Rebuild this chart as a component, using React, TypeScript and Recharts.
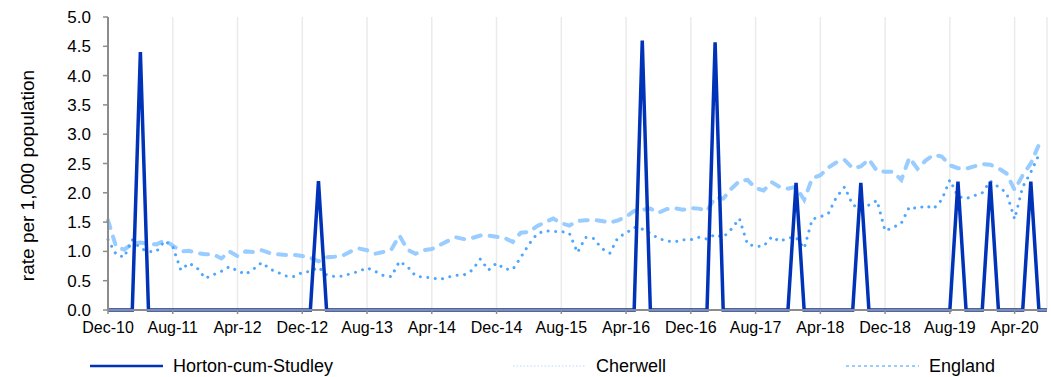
import { LineChart, Line, XAxis, YAxis, CartesianGrid, Legend } from "recharts"

// monthly categories, Dec-10 .. Aug-20
const months = [
  "Dec-10",
  "Jan-11", "Feb-11", "Mar-11", "Apr-11", "May-11", "Jun-11", "Jul-11", "Aug-11", "Sep-11", "Oct-11", "Nov-11", "Dec-11",
  "Jan-12", "Feb-12", "Mar-12", "Apr-12", "May-12", "Jun-12", "Jul-12", "Aug-12", "Sep-12", "Oct-12", "Nov-12", "Dec-12",
  "Jan-13", "Feb-13", "Mar-13", "Apr-13", "May-13", "Jun-13", "Jul-13", "Aug-13", "Sep-13", "Oct-13", "Nov-13", "Dec-13",
  "Jan-14", "Feb-14", "Mar-14", "Apr-14", "May-14", "Jun-14", "Jul-14", "Aug-14", "Sep-14", "Oct-14", "Nov-14", "Dec-14",
  "Jan-15", "Feb-15", "Mar-15", "Apr-15", "May-15", "Jun-15", "Jul-15", "Aug-15", "Sep-15", "Oct-15", "Nov-15", "Dec-15",
  "Jan-16", "Feb-16", "Mar-16", "Apr-16", "May-16", "Jun-16", "Jul-16", "Aug-16", "Sep-16", "Oct-16", "Nov-16", "Dec-16",
  "Jan-17", "Feb-17", "Mar-17", "Apr-17", "May-17", "Jun-17", "Jul-17", "Aug-17", "Sep-17", "Oct-17", "Nov-17", "Dec-17",
  "Jan-18", "Feb-18", "Mar-18", "Apr-18", "May-18", "Jun-18", "Jul-18", "Aug-18", "Sep-18", "Oct-18", "Nov-18", "Dec-18",
  "Jan-19", "Feb-19", "Mar-19", "Apr-19", "May-19", "Jun-19", "Jul-19", "Aug-19", "Sep-19", "Oct-19", "Nov-19", "Dec-19",
  "Jan-20", "Feb-20", "Mar-20", "Apr-20", "May-20", "Jun-20", "Jul-20", "Aug-20",
]

const hortonCumStudley = [
  0,
  0, 0, 0, 4.4, 0, 0, 0, 0, 0, 0, 0, 0,
  0, 0, 0, 0, 0, 0, 0, 0, 0, 0, 0, 0,
  0, 2.2, 0, 0, 0, 0, 0, 0, 0, 0, 0, 0,
  0, 0, 0, 0, 0, 0, 0, 0, 0, 0, 0, 0,
  0, 0, 0, 0, 0, 0, 0, 0, 0, 0, 0, 0,
  0, 0, 0, 0, 0, 4.6, 0, 0, 0, 0, 0, 0,
  0, 0, 4.57, 0, 0, 0, 0, 0, 0, 0, 0, 0,
  2.17, 0, 0, 0, 0, 0, 0, 0, 2.17, 0, 0, 0,
  0, 0, 0, 0, 0, 0, 0, 0, 2.19, 0, 0, 0,
  2.19, 0, 0, 0, 0, 2.19, 0, 0,
]

const cherwell = [
  1.2,
  0.95, 0.9, 1.2, 1.05, 1.0, 1.0, 1.18, 1.08, 0.68, 0.8, 0.72, 0.54,
  0.6, 0.66, 0.74, 0.67, 0.61, 0.7, 0.81, 0.7, 0.64, 0.58, 0.57, 0.64,
  0.66, 0.73, 0.6, 0.57, 0.58, 0.62, 0.66, 0.72, 0.66, 0.59, 0.57, 0.83,
  0.74, 0.58, 0.56, 0.55, 0.52, 0.56, 0.59, 0.6, 0.68, 0.87, 0.68, 0.8,
  0.7, 0.69, 0.9, 1.12, 1.3, 1.35, 1.34, 1.34, 1.31, 0.98, 1.24, 1.22,
  1.05, 0.97, 1.24, 1.31, 1.41, 1.38, 1.31, 1.22, 1.18, 1.16, 1.2, 1.2,
  1.24, 1.21, 1.29, 1.24, 1.38, 1.56, 1.12, 1.09, 1.09, 1.25, 1.17, 1.23,
  1.24, 1.05, 1.55, 1.59, 1.65, 1.93, 2.1, 1.79, 1.74, 1.79, 1.87, 1.35,
  1.41, 1.48, 1.76, 1.73, 1.78, 1.73, 1.88, 2.22, 1.94, 1.9, 1.95, 2.0,
  2.2, 2.1, 2.0, 1.55, 2.1, 2.35, 2.65, null,
]

const england = [
  1.53,
  1.08, 1.03, 1.13, 1.15, 1.13, 1.12, 1.19, 1.1, 1.0, 1.01, 0.97, 0.95,
  0.95, 0.88, 1.0, 0.92, 1.0, 0.99, 1.02, 0.97, 0.95, 0.94, 0.94, 0.92,
  0.89, 0.83, 0.9, 0.91, 0.93, 1.0, 1.05, 1.02, 0.96, 0.99, 1.03, 1.27,
  1.03, 0.96, 1.02, 1.04, 1.11, 1.18, 1.24, 1.21, 1.23, 1.27, 1.27, 1.25,
  1.23, 1.16, 1.32, 1.33, 1.43, 1.5, 1.56, 1.48, 1.44, 1.52, 1.53, 1.54,
  1.52, 1.49, 1.53, 1.59, 1.69, 1.71, 1.73, 1.66, 1.72, 1.74, 1.71, 1.74,
  1.73, 1.69, 1.92, 1.9, 2.07, 2.2, 2.22, 2.08, 2.04, 2.18, 2.1, 2.07,
  2.1, 1.88, 2.25, 2.3, 2.43, 2.52, 2.56, 2.42, 2.45, 2.57, 2.37, 2.36,
  2.36, 2.22, 2.6, 2.41, 2.55, 2.65, 2.62, 2.47, 2.42, 2.41, 2.45, 2.49,
  2.48, 2.42, 2.33, 2.05, 2.3, 2.5, 2.82, null,
]

const yTicks = [0, 0.5, 1, 1.5, 2, 2.5, 3, 3.5, 4, 4.5, 5]

const data = months.map((month, i) => ({
  month,
  horton: hortonCumStudley[i],
  cherwell: cherwell[i],
  england: england[i],
}))

const FONT = "'Liberation Sans', Arial, Helvetica, sans-serif"
const AXIS_GREY = "#8c8c8c"
const HORTON_BLUE = "#0033b8"

function YAxisTitle({ viewBox }: any) {
  const cx = viewBox.x + 27
  const cy = viewBox.y + viewBox.height / 2 + 12
  return (
    <text
      x={cx}
      y={cy}
      transform={`rotate(-90 ${cx} ${cy})`}
      textAnchor="middle"
      dominantBaseline="central"
      fontSize={19}
      fill="#000"
    >
      rate per 1,000 population
    </text>
  )
}

// legend is laid out like the original: three items spread across the width
const legendItems = [
  { name: "Horton-cum-Studley", left: 90, color: HORTON_BLUE, width: 2.5, dash: undefined },
  { name: "Cherwell", left: 513, color: "#cfe3fb", width: 1.5, dash: "1.5 2" },
  { name: "England", left: 846, color: "#99ccff", width: 2, dash: "3 3" },
]

function LegendContent() {
  return (
    <div style={{ position: "relative", height: 24, fontFamily: FONT, fontSize: 18, color: "#000" }}>
      {legendItems.map(item => (
        <div
          key={item.name}
          style={{ position: "absolute", left: item.left, top: 0, height: 24, display: "flex", alignItems: "center" }}
        >
          <svg width={73} height={6}>
            <line x1={0} y1={3} x2={73} y2={3} stroke={item.color} strokeWidth={item.width} strokeDasharray={item.dash} />
          </svg>
          <span style={{ marginLeft: 10 }}>{item.name}</span>
        </div>
      ))}
    </div>
  )
}

export default function App() {
  return (
    <div style={{ position: "absolute", left: 0, top: 0, width: 1051, height: 377, background: "#fff" }}>
      <LineChart
        width={1051}
        height={377}
        data={data}
        margin={{ top: 17, right: 4, left: 0, bottom: 13 }}
        style={{ fontFamily: FONT }}
      >
        <CartesianGrid horizontal={false} stroke="#ebebeb" strokeWidth={1.5} />
        <XAxis
          dataKey="month"
          interval={7}
          height={30}
          tickSize={4}
          tickMargin={8}
          axisLine={{ stroke: AXIS_GREY, strokeWidth: 2 }}
          tickLine={{ stroke: AXIS_GREY, strokeWidth: 1.5 }}
          tick={{ fontSize: 16, fill: "#000" }}
        />
        <YAxis
          width={108}
          domain={[0, 5]}
          ticks={yTicks}
          interval={0}
          tickFormatter={(v: number) => v.toFixed(1)}
          tickSize={5}
          tickMargin={12}
          axisLine={{ stroke: AXIS_GREY, strokeWidth: 2 }}
          tickLine={{ stroke: AXIS_GREY, strokeWidth: 1.5 }}
          tick={{ fontSize: 17, fill: "#000" }}
          label={<YAxisTitle />}
        />
        <Legend content={<LegendContent />} wrapperStyle={{ top: 354, left: 0, width: 1051, height: 24 }} />
        <Line
          type="linear"
          dataKey="england"
          name="England"
          stroke="#99ccff"
          strokeWidth={4}
          strokeDasharray="8 9"
          strokeLinecap="round"
          dot={false}
          activeDot={false}
          isAnimationActive={false}
        />
        <Line
          type="linear"
          dataKey="cherwell"
          name="Cherwell"
          stroke="#4da6ff"
          strokeWidth={3}
          strokeDasharray="0.01 7.5"
          strokeLinecap="round"
          dot={false}
          activeDot={false}
          isAnimationActive={false}
        />
        <Line
          type="linear"
          dataKey="horton"
          name="Horton-cum-Studley"
          stroke={HORTON_BLUE}
          strokeWidth={3.5}
          dot={false}
          activeDot={false}
          isAnimationActive={false}
        />
      </LineChart>
    </div>
  )
}
